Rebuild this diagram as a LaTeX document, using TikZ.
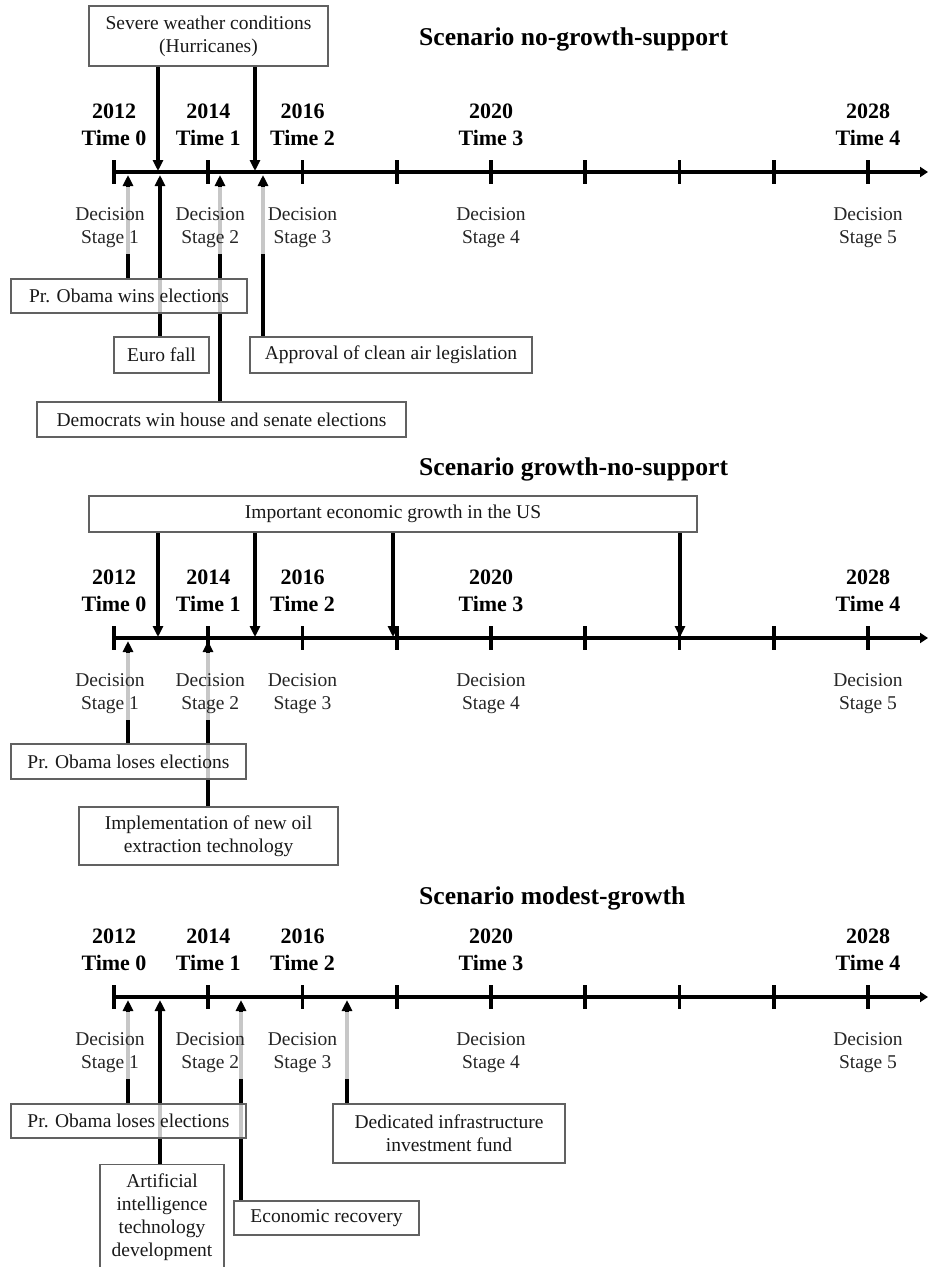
\documentclass[tikz,border=0pt]{standalone}
\usepackage{fontspec}
\setmainfont{Liberation Serif}
\usetikzlibrary{arrows.meta}
\pgfdeclarelayer{bg}
\pgfsetlayers{bg,main}
\tikzset{
  evbox/.style={draw=black!62, line width=1.3pt, fill=white, fill opacity=0.78, text opacity=1,
    inner sep=0pt, align=center, font=\fontsize{19.5}{23}\selectfont, text=black!90},
  declabel/.style={fill=white, fill opacity=0.78, text opacity=1, inner xsep=12pt, inner ysep=7pt,
    align=center, font=\fontsize{19.5}{23}\selectfont, text=black!85},
  yearlabel/.style={align=center, font=\fontsize{22}{27.5}\selectfont\bfseries, inner sep=0pt},
  titlelabel/.style={anchor=base west, font=\fontsize{25.6}{30}\selectfont\bfseries, inner sep=0pt},
  axisline/.style={line width=3.6pt, -{Triangle[length=8pt,width=10pt]}},
  tickline/.style={line width=3.6pt},
  evarrow/.style={line width=3.2pt, -{Triangle[length=11pt,width=10pt]}},
}
\begin{document}
\begin{tikzpicture}[x=1pt,y=-1pt]
\useasboundingbox (0,0) rectangle (927,1267);

% ---------- timelines ----------
\foreach \sn/\ay in {1/172,2/638,3/997} {
  \begin{pgfonlayer}{bg}
    \draw[axisline] (114,\ay) -- (928,\ay);
    \foreach \kk in {0,...,8}
      \draw[tickline] (114+\kk*94.25,\ay-12) -- (114+\kk*94.25,\ay+12);
  \end{pgfonlayer}
  \foreach \kk/\yr/\tn in {0/2012/0,1/2014/1,2/2016/2,4/2020/3,8/2028/4}
    \node[yearlabel] (yr\sn-\tn) at (114+\kk*94.25,\ay-47) {\yr\\Time \tn};
  \foreach \kk/\tn/\dx in {0/1/-4,1/2/2,2/3/0,4/4/0,8/5/0}
    \node[declabel] (ds\sn-\tn) at (114+\kk*94.25+\dx,\ay+48.6) {\rule{0pt}{26pt}Decision\\Stage \tn};
}

% ---------- titles ----------
\node[titlelabel] (title1) at (419,45) {Scenario no-growth-support};
\node[titlelabel] (title2) at (419,475) {Scenario growth-no-support};
\node[titlelabel] (title3) at (419,904) {Scenario modest-growth};

% ---------- scenario 1 ----------
\node[evbox, minimum width=239pt, minimum height=60pt] (severe) at (208.5,36) {Severe weather conditions\\(Hurricanes)};
\node[evbox, minimum width=236pt, minimum height=34pt] (obama1) at (129,296) {Pr. Obama wins elections};
\node[evbox, minimum width=95pt, minimum height=36pt] (euro) at (161.5,355) {Euro fall};
\node[evbox, minimum width=282pt, minimum height=36pt] (approval) at (391,355) {Approval of clean air legislation};
\node[evbox, minimum width=369pt, minimum height=35pt] (democrats) at (221.5,419.5) {Democrats win house and senate elections};

\coordinate (d1a) at (158,171);
\coordinate (d1b) at (255,171);
\coordinate (u1a) at (128,175);
\coordinate (u1b) at (160,175);
\coordinate (u1c) at (220,175);
\coordinate (u1d) at (263,175);

% ---------- scenario 2 ----------
\node[evbox, minimum width=608pt, minimum height=36pt] (growth) at (393,514) {Important economic growth in the US};
\node[evbox, minimum width=235pt, minimum height=35pt] (obama2) at (128.5,761.5) {Pr. Obama loses elections};
\node[evbox, minimum width=259pt, minimum height=58pt] (oiltech) at (208.5,836) {Implementation of new oil\\extraction technology};

\coordinate (d2a) at (158,637);
\coordinate (d2b) at (255,637);
\coordinate (d2c) at (393,637);
\coordinate (d2d) at (680,637);
\coordinate (u2a) at (128,641);
\coordinate (u2b) at (208,641);

% ---------- scenario 3 ----------
\node[evbox, minimum width=235pt, minimum height=34pt] (obama3) at (128.5,1121) {Pr. Obama loses elections};
\node[evbox, minimum width=124pt, inner ysep=9pt, anchor=north] (aitech) at (162,1164) {Artificial\\intelligence\\technology\\development};
\node[evbox, minimum width=185pt, minimum height=34pt] (recovery) at (326.5,1218) {Economic recovery};
\node[evbox, minimum width=232pt, minimum height=59pt] (fund) at (449,1133.5) {Dedicated infrastructure\\investment fund};

\coordinate (u3a) at (128,1000);
\coordinate (u3b) at (160,1000);
\coordinate (u3c) at (241,1000);
\coordinate (u3d) at (347,1000);

% ---------- connectors ----------
\begin{pgfonlayer}{bg}
  \draw[evarrow] (severe.south -| d1a) -- (d1a);
  \draw[evarrow] (severe.south -| d1b) -- (d1b);
  \draw[evarrow] (obama1.north -| u1a) -- (u1a);
  \draw[evarrow] (euro.north -| u1b) -- (u1b);
  \draw[evarrow] (democrats.north -| u1c) -- (u1c);
  \draw[evarrow] (approval.north -| u1d) -- (u1d);

  \draw[evarrow] (growth.south -| d2a) -- (d2a);
  \draw[evarrow] (growth.south -| d2b) -- (d2b);
  \draw[evarrow] (growth.south -| d2c) -- (d2c);
  \draw[evarrow] (growth.south -| d2d) -- (d2d);
  \draw[evarrow] (obama2.north -| u2a) -- (u2a);
  \draw[evarrow] (oiltech.north -| u2b) -- (u2b);

  \draw[evarrow] (obama3.north -| u3a) -- (u3a);
  \draw[evarrow] (aitech.north -| u3b) -- (u3b);
  \draw[evarrow] (recovery.north -| u3c) -- (u3c);
  \draw[evarrow] (fund.north -| u3d) -- (u3d);
\end{pgfonlayer}
\end{tikzpicture}
\end{document}
